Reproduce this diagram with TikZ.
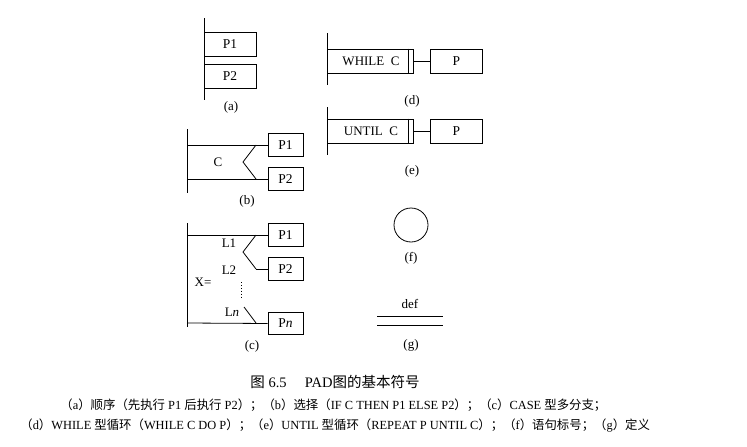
\documentclass[tikz,border=0pt]{standalone}
\usepackage{fontspec}
\setmainfont{Liberation Serif}
\newfontfamily\cjk{Noto Sans CJK SC}
\newcommand\zh[1]{{\cjk #1}}
\newcommand\zlp{{\cjk （}}
\newcommand\zrp{{\cjk ）}}
\begin{document}
\begin{tikzpicture}[x=1pt,y=-1pt,line width=0.8pt,
  padbox/.style={draw,inner sep=0pt,minimum height=24pt,font=\fontsize{13.5}{14}\selectfont},
  smallbox/.style={padbox,minimum width=35pt,minimum height=23pt},
  seqbox/.style={padbox,minimum width=52pt},
  loopbox/.style={padbox,minimum width=86pt},
  tag/.style={inner sep=0pt,font=\fontsize{13}{14}\selectfont},
  caption/.style={inner sep=0pt,font=\fontsize{12.4}{13}\selectfont}]
\useasboundingbox (0,0) rectangle (747,447);

% (a) sequence
\coordinate (a1) at (204,18);
\coordinate (a2) at (204,100);
\draw (a1) -- (a2);
\node[seqbox] (aP1) at (230,44) {P1};
\node[seqbox] (aP2) at (230,76) {P2};
\node[tag] (alab) at (231,107) {(a)};

% (b) selection
\coordinate (b1) at (187,129);
\coordinate (b2) at (187,193);
\coordinate (bt) at (187,145);
\coordinate (bb) at (187,179);
\coordinate (bz1) at (256,145);
\coordinate (bz2) at (243,162);
\coordinate (bz3) at (256,179);
\draw (b1) -- (b2);
\node[smallbox] (bP1) at (285.5,145) {P1};
\node[smallbox] (bP2) at (285.5,179) {P2};
\draw (bt) -- (bP1.west);
\draw (bb) -- (bP2.west);
\draw (bz1) -- (bz2) -- (bz3);
\node[tag] (bC) at (218,162) {C};
\node[tag] (blab) at (247,201) {(b)};

% (c) case
\coordinate (c1) at (187,223);
\coordinate (c2) at (187,327);
\coordinate (ct) at (187,235);
\coordinate (cb) at (187,323);
\coordinate (cz1) at (256,235);
\coordinate (cz2) at (243,252);
\coordinate (cz3) at (256,269);
\coordinate (cd1) at (241,282);
\coordinate (cd2) at (241,298);
\coordinate (cn1) at (244,307);
\coordinate (cn2) at (256,323);
\draw (c1) -- (c2);
\node[smallbox] (cP1) at (285.5,235) {P1};
\node[smallbox] (cP2) at (285.5,269) {P2};
\node[smallbox,minimum height=22pt] (cPn) at (285.5,323.5) {P\textit{n}};
\draw (ct) -- (cP1.west);
\draw (cz3) -- (cP2.west);
\draw (cb) -- (cPn.west);
\draw (cz1) -- (cz2) -- (cz3);
\draw[dotted,line width=0.9pt] (cd1) -- (cd2);
\draw (cn1) -- (cn2);
\node[tag] (cL1) at (229,243) {L1};
\node[tag] (cL2) at (229,270) {L2};
\node[tag] (cLn) at (232,312) {L\textit{n}};
\node[tag] (cX) at (203,282) {X=};
\node[tag] (clab) at (252,346) {(c)};

% (d) while loop
\coordinate (d1) at (327,33);
\coordinate (d2) at (327,85);
\draw (d1) -- (d2);
\node[loopbox,anchor=west] (dW) at (327,61) {};
\draw ([xshift=-5pt]dW.north east) -- ([xshift=-5pt]dW.south east);
\node[tag] (dWt) at (371,61) {WHILE\ \ C};
\node[seqbox,anchor=west] (dP) at (430,61) {P};
\draw (dW.east) -- (dP.west);
\node[tag] (dlab) at (412,101) {(d)};

% (e) until loop
\coordinate (e1) at (327,107);
\coordinate (e2) at (327,155);
\draw (e1) -- (e2);
\node[loopbox,anchor=west] (eU) at (327,131) {};
\draw ([xshift=-5pt]eU.north east) -- ([xshift=-5pt]eU.south east);
\node[tag] (eUt) at (371,131) {UNTIL\ \ C};
\node[seqbox,anchor=west] (eP) at (430,131) {P};
\draw (eU.east) -- (eP.west);
\node[tag] (elab) at (412,171) {(e)};

% (f) statement label
\node[draw,circle,minimum size=34pt,inner sep=0pt] (fC) at (411,225) {};
\node[tag] (flab) at (411,258) {(f)};

% (g) definition
\node[tag] (gdef) at (410,304) {def};
\coordinate (g1) at (377,316);
\coordinate (g2) at (443,316);
\coordinate (g3) at (377,325);
\coordinate (g4) at (443,325);
\draw (g1) -- (g2);
\draw (g3) -- (g4);
\node[tag] (glab) at (411,345) {(g)};

% caption
\node[caption,font=\fontsize{14.5}{15}\selectfont] (title) at (335,382)
  {\zh{图}\ 6.5\quad\ PAD\zh{图的基本符号}};
\node[caption,anchor=west] (cap1) at (60,405)
  {\zlp a\zrp\zh{顺序}\zlp\zh{先执行} P1 \zh{后执行} P2\zrp\zh{；}\zlp b\zrp\zh{选择}\zlp IF C THEN P1 ELSE P2\zrp\zh{；}\zlp c\zrp CASE \zh{型多分支；}};
\node[caption,anchor=west] (cap2) at (20,426)
  {\zlp d\zrp WHILE \zh{型循环}\zlp WHILE C DO P\zrp\zh{；}\zlp e\zrp UNTIL \zh{型循环}\zlp REPEAT P UNTIL C\zrp\zh{；}\zlp f\zrp\zh{语句标号；}\zlp g\zrp\zh{定义}};
\end{tikzpicture}
\end{document}
